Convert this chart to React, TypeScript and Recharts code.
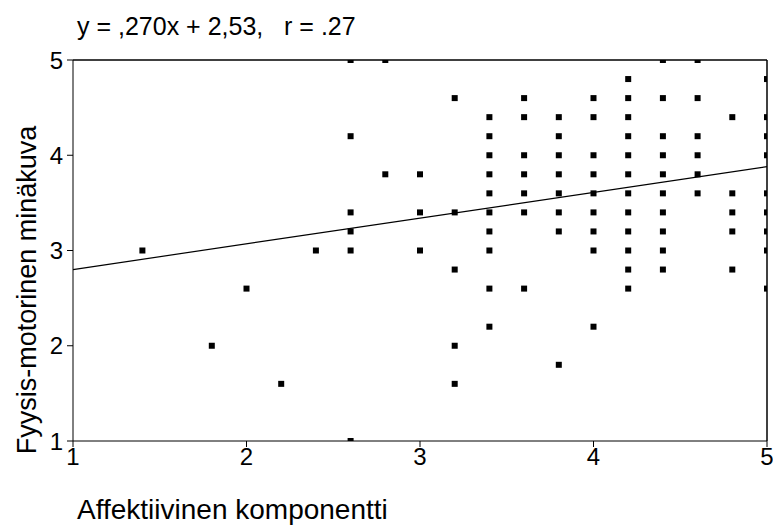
import React from "react";
import {
  ScatterChart,
  Scatter,
  XAxis,
  YAxis,
  ReferenceLine,
} from "recharts";

// columns of the scatter: x value and the y values plotted at that x
const columnX = [1.4, 1.8, 2.0, 2.2, 2.4, 2.6, 2.8, 3.0, 3.2, 3.4, 3.6, 3.8, 4.0, 4.2, 4.4, 4.6, 4.8, 5.0];
const columnY = [
  [3.0],
  [2.0],
  [2.6],
  [1.6],
  [3.0],
  [5.0, 4.2, 3.4, 3.2, 3.0, 1.0],
  [5.0, 3.8],
  [3.8, 3.4, 3.0],
  [4.6, 3.4, 2.8, 2.0, 1.6],
  [4.4, 4.2, 4.0, 3.8, 3.6, 3.4, 3.2, 3.0, 2.6, 2.2],
  [4.6, 4.4, 4.0, 3.8, 3.6, 3.4, 2.6],
  [4.4, 4.2, 4.0, 3.8, 3.6, 3.4, 3.2, 1.8],
  [4.6, 4.4, 4.0, 3.8, 3.6, 3.4, 3.2, 3.0, 2.2],
  [4.8, 4.6, 4.4, 4.2, 4.0, 3.8, 3.6, 3.4, 3.2, 3.0, 2.8, 2.6],
  [5.0, 4.6, 4.2, 4.0, 3.8, 3.6, 3.4, 3.2, 3.0, 2.8],
  [5.0, 4.6, 4.2, 4.0, 3.8, 3.6],
  [4.4, 3.6, 3.4, 3.2, 2.8],
  [4.8, 4.4, 4.2, 4.0, 3.6, 3.4, 3.2, 3.0, 2.6],
];

const axisTicks = [1, 2, 3, 4, 5];
const slope = 0.27;
const intercept = 2.53;

const points = columnX.flatMap((x, i) => columnY[i].map((y) => ({ x, y })));
const fitLine = [
  { x: 1, y: intercept + slope * 1 },
  { x: 5, y: intercept + slope * 5 },
];

const FONT = '"Liberation Sans", Arial, sans-serif';

const Dot = (props: any) => {
  const { cx, cy } = props;
  if (cx == null || cy == null) return null;
  return <rect x={cx - 3} y={cy - 3} width={6} height={6} fill="#000" />;
};

export default function App() {
  return (
    <div style={{ position: "fixed", left: 0, top: 0, width: 773, height: 528, background: "#fff", fontFamily: FONT, overflow: "hidden" }}>
      <div
        style={{
          position: "absolute",
          left: 77,
          top: 11,
          fontSize: 25,
          lineHeight: "30px",
          whiteSpace: "pre",
          color: "#000",
        }}
      >
        {"y = ,270x + 2,53,   r = .27"}
      </div>
      <div
        style={{
          position: "absolute",
          left: 27,
          top: 290,
          fontSize: 27,
          lineHeight: "30px",
          whiteSpace: "pre",
          transform: "translate(-50%, -50%) rotate(-90deg)",
          color: "#000",
        }}
      >
        Fyysis-motorinen minäkuva
      </div>
      <div
        style={{
          position: "absolute",
          left: 77,
          top: 495,
          fontSize: 28,
          lineHeight: "30px",
          whiteSpace: "pre",
          color: "#000",
        }}
      >
        Affektiivinen komponentti
      </div>
      <ScatterChart
        width={773}
        height={528}
        margin={{ top: 60, right: 6, left: 0, bottom: 0 }}
        style={{ position: "absolute", left: 0, top: 0 }}
      >
        <XAxis
          type="number"
          dataKey="x"
          domain={[1, 5]}
          ticks={axisTicks}
          allowDataOverflow
          height={87}
          tickSize={6}
          tickMargin={1}
          stroke="#000"
          tick={{ fill: "#000", fontSize: 24, fontFamily: FONT }}
          interval={0}
        />
        <YAxis
          type="number"
          dataKey="y"
          domain={[1, 5]}
          ticks={axisTicks}
          allowDataOverflow
          width={73}
          tickSize={6}
          tickMargin={4}
          stroke="#000"
          tick={{ fill: "#000", fontSize: 24, fontFamily: FONT }}
          interval={0}
        />
        <ReferenceLine y={5} stroke="#000" strokeWidth={1.5} ifOverflow="visible" />
        <ReferenceLine x={5} stroke="#000" strokeWidth={1.5} ifOverflow="visible" />
        <ReferenceLine segment={fitLine} stroke="#000" strokeWidth={1.2} />
        <Scatter data={points} shape={<Dot />} isAnimationActive={false} />
      </ScatterChart>
    </div>
  );
}
